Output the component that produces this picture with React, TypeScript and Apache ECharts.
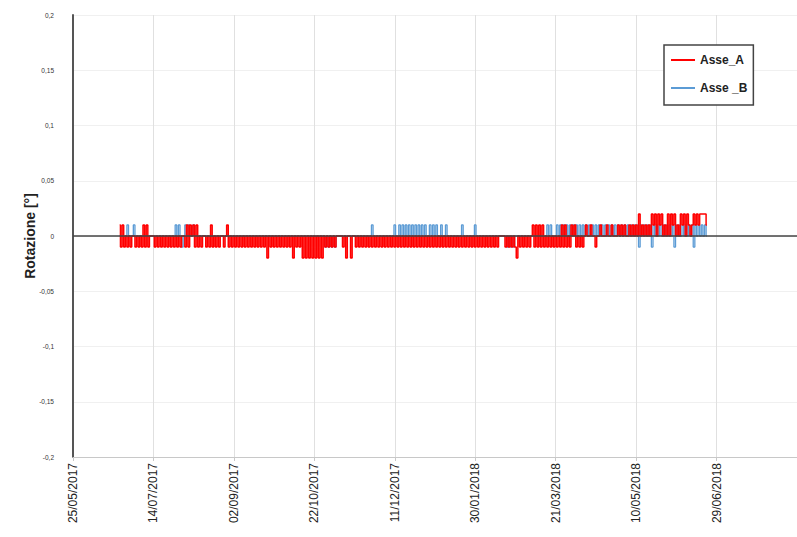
import React, { useEffect, useRef } from "react";
import * as echarts from "echarts";

// Giorno 0 dell'asse: 25/05/2017. Le serie partono dal 23/06/2017 (giorno 29).
const ORIGINE_UTC = Date.UTC(2017, 4, 25);
const PRIMO_GIORNO = 29;
const GIORNO_MS = 86400000;

// Tick dell'asse Y
const Y_MIN = -0.2;
const Y_MAX = 0.2;
const Y_PASSO = 0.05;

// Tick dell'asse X (giorni dall'origine)
const X_MIN = 0;
const X_MAX = 450;
const X_PASSO = 50;

const NOMI_SERIE = ["Asse_A", "Asse _B"];

// Letture giornaliere Asse_A, in centesimi di grado
const asseA_giu17 = [1, -1, 1, -1, 0, -1, 0, -1];
const asseA_lug17 = [0, 0, -1, 0, -1, 0, -1, 1, -1, 1, -1, 0, 0, 0, -1, 0, -1, 0, -1, 0, -1, 0, -1, 0, -1, 0, -1, 0, -1, 0, -1];
const asseA_ago17 = [0, 0, -1, 1, -1, 1, 0, 1, -1, 1, -1, 0, -1, 0, 0, -1, 0, -1, 1, -1, 0, -1, 0, -1, 0, 0, -1, 0, 1, -1, 0];
const asseA_set17 = [-1, 0, -1, 0, -1, 0, -1, 0, -1, 0, -1, 0, -1, 0, -1, 0, -1, 0, -1, 0, -1, 0, -2, 0, -1, 0, -1, 0, -1, 0];
const asseA_ott17 = [-1, 0, -1, 0, -1, 0, -1, 0, -2, 0, -1, 0, -1, 0, -2, 0, -2, 0, -2, 0, -2, 0, -2, 0, -2, 0, -2, 0, -1, 0, -1];
const asseA_nov17 = [0, -1, 0, -1, 0, 0, 0, 0, -1, 0, -2, 0, 0, -2, 0, 0, -1, 0, -1, 0, -1, 0, -1, 0, -1, 0, -1, 0, -1, 0];
const asseA_dic17 = [-1, 0, -1, 0, -1, 0, -1, 0, -1, 0, -1, 0, -1, 0, -1, 0, -1, 0, -1, 0, -1, 0, -1, 0, -1, 0, -1, 0, -1, 0, -1];
const asseA_gen18 = [0, -1, 0, -1, 0, -1, 0, -1, 0, -1, 0, -1, 0, -1, 0, -1, 0, -1, 0, -1, 0, -1, 0, -1, 0, -1, 0, -1, 0, -1, 0];
const asseA_feb18 = [-1, 0, -1, 0, -1, 0, -1, 0, -1, 0, -1, 0, -1, 0, 0, 0, 0, -1, 0, -1, 0, -1, 0, -1, -2, 0, -1, 0];
const asseA_mar18 = [-1, 0, -1, 0, -1, 0, 1, -1, 1, -1, 1, -1, 1, -1, 0, -1, 0, -1, 0, -1, 0, -1, 0, -1, 1, -1, 1, -1, 0, -1, 1];
const asseA_apr18 = [0, 1, -1, 0, -1, 0, -1, 0, 1, 0, 0, 1, 0, 0, -1, 0, 0, 1, 0, 0, 0, 1, 0, 0, 1, 0, 0, 0, 1, 0];
const asseA_mag18 = [1, 0, 1, 0, 0, 1, 0, 1, 0, 1, 0, 2, 0, 1, 0, 1, 0, 1, 0, 2, 1, 2, 0, 2, 1, 2, 0, 1, 0, 2, 0];
const asseA_giu18 = [2, 1, 2, 0, 1, 0, 2, 1, 2, 0, 2, 1, 0, 1, 2, 1, 2, 1, 2, 2, 2, 2, 1];

// Letture giornaliere Asse _B, in centesimi di grado
const asseB_giu17 = [0, 0, 0, 0, 0, 1, 0, 0];
const asseB_lug17 = [0, 1, 0, 0, 0, 0, 0, 0, 0, 0, 0, 0, 0, 0, 0, 0, 0, 0, 0, 0, 0, 0, 0, 0, 0, 0, 0, 1, 0, 1, 0];
const asseB_ago17 = [-1, 0, 1, 0, 1, 0, 0, 1, 0, 0, 0, 0, 0, 0, 0, 0, 0, 0, 0, 0, 0, 0, 0, 0, 0, 0, 0, 0, 0, 0, 0];
const asseB_set17 = [0, 0, 0, 0, 0, 0, 0, 0, 0, 0, 0, 0, 0, 0, 0, 0, 0, 0, 0, 0, 0, 0, 0, 0, 0, 0, 0, 0, 0, 0];
const asseB_ott17 = [0, 0, 0, 0, 0, 0, 0, 0, 0, 0, 0, 0, 0, 0, 0, 0, 0, 0, 0, 0, 0, 0, 0, 0, 0, 0, 0, 0, -1, 0, -1];
const asseB_nov17 = [0, -1, 0, -1, 0, 0, 0, 0, 0, 0, 0, 0, 0, 0, 0, 0, 0, 0, 0, 0, 0, 0, 0, 0, 0, 0, 1, 0, 0, 0];
const asseB_dic17 = [0, 0, 0, 0, 0, 0, 0, 0, 0, 0, 1, 0, 0, 1, 0, 1, 0, 1, 0, 1, 0, 1, 0, 1, 0, 1, 0, 1, 0, 1, 0];
const asseB_gen18 = [0, 1, 0, 1, 0, 1, 0, 0, 1, 0, 0, 1, 0, 0, 0, 0, 0, 0, 0, 0, 0, 1, 0, 0, 0, 0, 0, 0, 0, 1, 0];
const asseB_feb18 = [0, 0, 0, 0, 0, 0, 0, 0, 0, 0, 0, 0, 0, 0, 0, 0, 0, 0, -1, 0, -1, 0, -1, 0, 0, 0, 0, 0];
const asseB_mar18 = [0, 0, 0, 0, 0, 0, 0, 0, 0, 0, 0, 0, 0, 0, 0, 1, 0, 1, 0, 0, 0, 1, 0, 1, 0, 1, 0, 1, 0, 1, 0];
const asseB_apr18 = [1, 0, 1, 0, 1, 0, 1, 0, 1, 0, 1, 0, 1, 0, 1, 0, 1, 0, 1, 0, 1, 0, 1, 0, 1, 0, 1, 0, 1, 0];
const asseB_mag18 = [1, 0, 1, 0, 1, 0, 1, 0, 1, 0, 1, -1, 1, 0, 1, 0, 1, 0, 1, -1, 1, 0, 1, 0, 1, 0, 1, 0, 1, 0, 1];
const asseB_giu18 = [0, 1, -1, 1, 0, 1, 0, 1, 0, 1, 0, 1, 0, 1, -1, 1, 0, 1, 0, 1, 0, 1, 0];

const ASSE_A = [
  asseA_giu17, asseA_lug17, asseA_ago17, asseA_set17, asseA_ott17, asseA_nov17, asseA_dic17,
  asseA_gen18, asseA_feb18, asseA_mar18, asseA_apr18, asseA_mag18, asseA_giu18,
];
const ASSE_B = [
  asseB_giu17, asseB_lug17, asseB_ago17, asseB_set17, asseB_ott17, asseB_nov17, asseB_dic17,
  asseB_gen18, asseB_feb18, asseB_mar18, asseB_apr18, asseB_mag18, asseB_giu18,
];

// Centesimi di grado -> punti [giorno, gradi]
function punti(mesi: number[][]): [number, number][] {
  const valori = ([] as number[]).concat(...mesi);
  return valori.map((c, i) => [PRIMO_GIORNO + i, c / 100]);
}

function formattaData(giorno: number): string {
  const d = new Date(ORIGINE_UTC + Math.round(giorno) * GIORNO_MS);
  const gg = String(d.getUTCDate()).padStart(2, "0");
  const mm = String(d.getUTCMonth() + 1).padStart(2, "0");
  return `${gg}/${mm}/${d.getUTCFullYear()}`;
}

function formattaGradi(v: number): string {
  const r = Math.round(v * 100) / 100;
  return String(r).replace(".", ",");
}

const FONT = "'Liberation Sans', Arial, sans-serif";

export default function App() {
  const ref = useRef<HTMLDivElement>(null);

  useEffect(() => {
    if (!ref.current) return;
    const chart = echarts.init(ref.current, undefined, { renderer: "svg" });
    chart.setOption({
      animation: false,
      backgroundColor: "#ffffff",
      textStyle: { fontFamily: FONT },
      grid: { left: 73, top: 15, width: 730, height: 442, containLabel: false },
      legend: {
        data: NOMI_SERIE,
        orient: "vertical",
        left: 664,
        top: 45,
        padding: [9, 6, 11, 7],
        itemGap: 16,
        itemWidth: 24,
        itemHeight: 2,
        icon: "rect",
        borderColor: "#444",
        borderWidth: 1.5,
        backgroundColor: "#fff",
        textStyle: { fontFamily: FONT, fontSize: 12, fontWeight: "bold", color: "#222" },
      },
      xAxis: {
        type: "value",
        min: X_MIN,
        max: X_MAX,
        interval: X_PASSO,
        axisLine: { show: true, onZero: false, lineStyle: { color: "#c8c8c8", width: 1 } },
        axisTick: { show: true, length: 4, lineStyle: { color: "#c8c8c8" } },
        splitLine: { show: true, lineStyle: { color: "#e0e0e0", width: 1 } },
        axisLabel: {
          rotate: 90,
          margin: 6,
          fontSize: 12,
          color: "#222",
          fontFamily: FONT,
          showMaxLabel: false,
          formatter: (v: number) => formattaData(v),
        },
      },
      yAxis: {
        type: "value",
        min: Y_MIN,
        max: Y_MAX,
        interval: Y_PASSO,
        name: "Rotazione [°]",
        nameLocation: "middle",
        nameGap: 36,
        nameMoveOverlap: false,
        nameTextStyle: { fontFamily: FONT, fontSize: 14, fontWeight: "bold", color: "#222" },
        axisLine: { show: true, lineStyle: { color: "#555", width: 2 } },
        axisTick: { show: false },
        splitLine: { show: true, lineStyle: { color: "#f0f0f0", width: 1 } },
        axisLabel: {
          margin: 19,
          fontSize: 6.5,
          color: "#333",
          fontFamily: FONT,
          formatter: (v: number) => formattaGradi(v),
        },
      },
      series: [
        {
          name: NOMI_SERIE[0],
          type: "line",
          step: "middle",
          data: punti(ASSE_A),
          showSymbol: false,
          symbol: "none",
          z: 3,
          lineStyle: { color: "#ff0000", width: 1.5 },
          itemStyle: { color: "#ff0000" },
        },
        {
          name: NOMI_SERIE[1],
          type: "line",
          step: "middle",
          data: punti(ASSE_B),
          showSymbol: false,
          symbol: "none",
          z: 2,
          lineStyle: { color: "#5b9bd5", width: 1.3 },
          itemStyle: { color: "#5b9bd5" },
          markLine: {
            silent: true,
            symbol: "none",
            label: { show: false },
            lineStyle: { color: "#444", width: 1.5, type: "solid" },
            data: [{ yAxis: 0 }],
          },
        },
      ],
    });
    return () => chart.dispose();
  }, []);

  return (
    <div
      ref={ref}
      style={{ position: "fixed", left: 0, top: 0, width: 797, height: 537 }}
    />
  );
}
